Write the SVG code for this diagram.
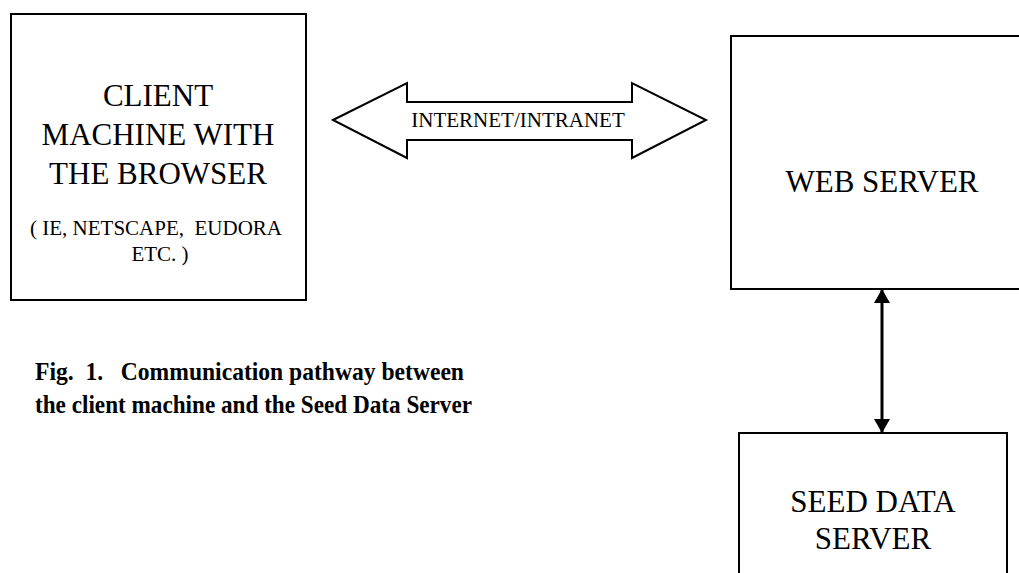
<svg xmlns="http://www.w3.org/2000/svg" width="1019" height="573" viewBox="0 0 1019 573">
  <style>
    .box { fill: #fff; stroke: #000; stroke-width: 2; }
    .lbl { font-family: "Liberation Serif", "Times New Roman", serif; fill: #000; text-anchor: middle; }
    .big { font-size: 31px; }
    .small { font-size: 21px; }
    .cap { font-family: "Liberation Serif", "Times New Roman", serif; font-weight: bold; font-size: 25.5px; fill: #000; }
  </style>
  <defs>
    <marker id="head" viewBox="0 0 14 16" refX="14" refY="8" markerWidth="14" markerHeight="16" markerUnits="userSpaceOnUse" orient="auto-start-reverse">
      <path d="M0,0 L14,8 L0,16 Z" fill="#000"/>
    </marker>
  </defs>
  <rect width="1019" height="573" fill="#fff"/>

  <g id="client">
    <rect class="box" x="11" y="14" width="295" height="286"/>
    <text class="lbl big" x="158" y="106">CLIENT</text>
    <text class="lbl big" x="158" y="145">MACHINE WITH</text>
    <text class="lbl big" x="158" y="184">THE BROWSER</text>
    <text class="lbl small" x="156" y="235" xml:space="preserve">( IE, NETSCAPE,  EUDORA</text>
    <text class="lbl small" x="160" y="261">ETC. )</text>
  </g>

  <g id="web-server">
    <rect class="box" x="731" y="36" width="290" height="253"/>
    <text class="lbl big" x="882" y="192">WEB SERVER</text>
  </g>

  <g id="seed-data-server">
    <rect class="box" x="739" y="433" width="268" height="150"/>
    <text class="lbl big" x="873" y="512">SEED DATA</text>
    <text class="lbl big" x="873" y="549">SERVER</text>
  </g>

  <g id="connectors">
    <g id="internet-link">
      <polygon class="box" points="333,120 407,83 407,102 632,102 632,83 706,120 632,158 632,140 407,140 407,158"/>
      <text class="lbl small" x="518" y="127">INTERNET/INTRANET</text>
    </g>
    <line id="server-link" x1="882" y1="289" x2="882" y2="433" stroke="#000" stroke-width="3" marker-start="url(#head)" marker-end="url(#head)"/>
  </g>

  <g id="caption">
    <text class="cap" x="35" y="380" textLength="429" lengthAdjust="spacingAndGlyphs" xml:space="preserve">Fig.  1.   Communication pathway between</text>
    <text class="cap" x="35" y="413" textLength="437" lengthAdjust="spacingAndGlyphs">the client machine and the Seed Data Server</text>
  </g>
</svg>
